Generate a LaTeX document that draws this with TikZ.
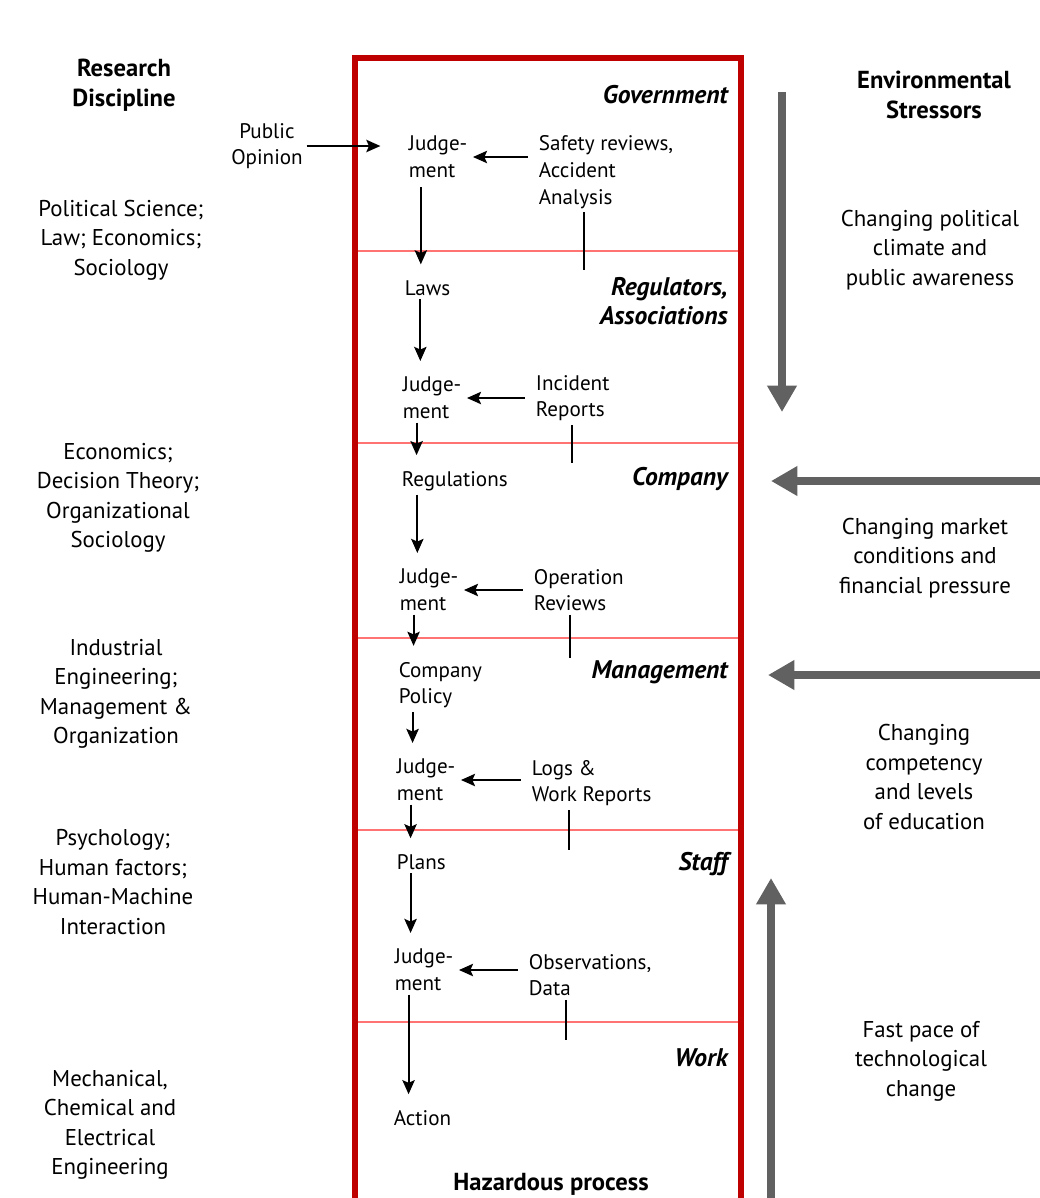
\documentclass[tikz,border=0pt]{standalone}
\usepackage{fontspec}
\setmainfont{PT Sans}
\usetikzlibrary{arrows.meta}

\begin{document}
\begin{tikzpicture}[x=0.02cm,y=-0.02cm,
  side/.style={align=center,font=\fontsize{13}{16.8}\selectfont,inner sep=2pt},
  head/.style={side,font=\fontsize{14}{16.8}\selectfont\bfseries},
  inner/.style={anchor=west,align=left,font=\fontsize{12}{15.2}\selectfont,inner sep=2pt},
  layer/.style={anchor=east,align=right,font=\fontsize{14.5}{16.8}\selectfont\bfseries\itshape,inner sep=0pt},
  arr/.style={line width=1.2pt,-{Stealth[length=8pt,width=7pt,inset=1.5pt]}},
  down/.style={arr,shorten >=7pt},
  fbline/.style={line width=1.2pt},
  stress/.style={draw=black!62,line width=4pt,-{Triangle[length=15pt,width=16pt]}},
  redbox/.style={draw=red!75!black,line width=3pt},
  layerline/.style={draw=red!55,line width=0.6pt}]
\useasboundingbox (0,0) rectangle (1040,1198);

% the column of levels
\draw[redbox] (355,1215) -- (355,58) -- (741,58) -- (741,1215);
\foreach \ly in {251,443,638,830,1022}
  \draw[layerline] (358,\ly) -- (738,\ly);

\node[layer] (gov) at (728,95) {Government};
\node[layer] (reg) at (728,301) {Regulators,\\Associations};
\node[layer] (com) at (728,479) {Company};
\node[layer] (man) at (728,672) {Management};
\node[layer] (sta) at (728,864) {Staff};
\node[layer] (wor) at (728,1058) {Work};
\node[head] (haz) at (551,1184) {Hazardous process};

% left: disciplines
\node[head] (res) at (124,85) {Research\\Discipline};
\node[side] (d1) at (121,240) {Political Science;\\Law; Economics;\\Sociology};
\node[side] (d2) at (118,498) {Economics;\\Decision Theory;\\Organizational\\Sociology};
\node[side] (d3) at (116,694) {Industrial\\Engineering;\\Management \&\\Organization};
\node[side] (d4) at (113,882) {Psychology;\\Human factors;\\Human-Machine\\Interaction};
\node[side] (d5) at (110,1125) {Mechanical,\\Chemical and\\Electrical\\Engineering};
\node[side,font=\fontsize{12}{15.2}\selectfont] (pub) at (267,146) {Public\\Opinion};

% decisions and feedback
\node[inner] (j1) at (405,157) {Judge-\\ment};
\node[inner] (fb1) at (535,172) {Safety reviews,\\Accident\\Analysis};
\node[inner] (laws) at (401,288) {Laws};
\node[inner] (j2) at (399,398) {Judge-\\ment};
\node[inner] (fb2) at (532,398) {Incident\\Reports};
\node[inner] (regs) at (398,481) {Regulations};
\node[inner] (j3) at (396,590) {Judge-\\ment};
\node[inner] (fb3) at (530,590) {Operation\\Reviews};
\node[inner] (pol) at (395,685) {Company\\Policy};
\node[inner] (j4) at (393,780) {Judge-\\ment};
\node[inner] (fb4) at (528,783) {Logs \&\\Work Reports};
\node[inner] (plans) at (393,862) {Plans};
\node[inner] (j5) at (391,970) {Judge-\\ment};
\node[inner] (fb5) at (525,975) {Observations,\\Data};
\node[inner] (act) at (390,1118) {Action};

\coordinate (e1) at (584,270);
\coordinate (e2) at (572,463);
\coordinate (e3) at (570,658);
\coordinate (e4) at (569,850);
\coordinate (e5) at (566,1040);

\draw[arr,shorten >=14pt] (pub.east) -- (pub.east -| j1.west);

\draw[down] ([xshift=9pt,yshift=-3pt]j1.south west) -- ([xshift=9pt]j1.south west |- laws.north);
\draw[down] ([xshift=11pt]laws.south west) -- ([xshift=11pt]laws.south west |- j2.north);
\draw[down] ([xshift=10pt]j2.south west) -- ([xshift=10pt]j2.south west |- regs.north);
\draw[down] ([xshift=11pt]regs.south west) -- ([xshift=11pt]regs.south west |- j3.north);
\draw[down] ([xshift=10pt]j3.south west) -- ([xshift=10pt]j3.south west |- pol.north);
\draw[down] ([xshift=10pt]pol.south west) -- ([xshift=10pt]pol.south west |- j4.north);
\draw[down] ([xshift=10pt]j4.south west) -- ([xshift=10pt]j4.south west |- plans.north);
\draw[down] ([xshift=10pt]plans.south west) -- ([xshift=10pt]plans.south west |- j5.north);
\draw[down] ([xshift=10pt]j5.south west) -- ([xshift=10pt]j5.south west |- act.north);

\foreach \n in {1,...,5}
{
  \draw[arr] ([xshift=-4pt]fb\n.west |- j\n.east) -- ([xshift=1pt]j\n.east);
  \draw[fbline] (e\n |- fb\n.south) -- (e\n);
}

% right: stressors
\node[head] (env) at (934,95) {Environmental\\Stressors};
\node[side] (s1) at (930,250) {Changing political\\climate and\\public awareness};
\node[side] (s2) at (925,558) {Changing market\\conditions and\\financial pressure};
\node[side] (s3) at (924,777) {Changing\\competency\\and levels\\of education};
\node[side] (s4) at (921,1061) {Fast pace of\\technological\\change};

\coordinate (a1) at (782,92);
\coordinate (b1) at (782,412);
\coordinate (a2) at (1045,481);
\coordinate (b2) at (771,481);
\coordinate (a3) at (1045,675);
\coordinate (b3) at (768,675);
\coordinate (a4) at (771,1205);
\coordinate (b4) at (771,878);
\foreach \n in {1,...,4}
  \draw[stress] (a\n) -- (b\n);
\end{tikzpicture}
\end{document}
